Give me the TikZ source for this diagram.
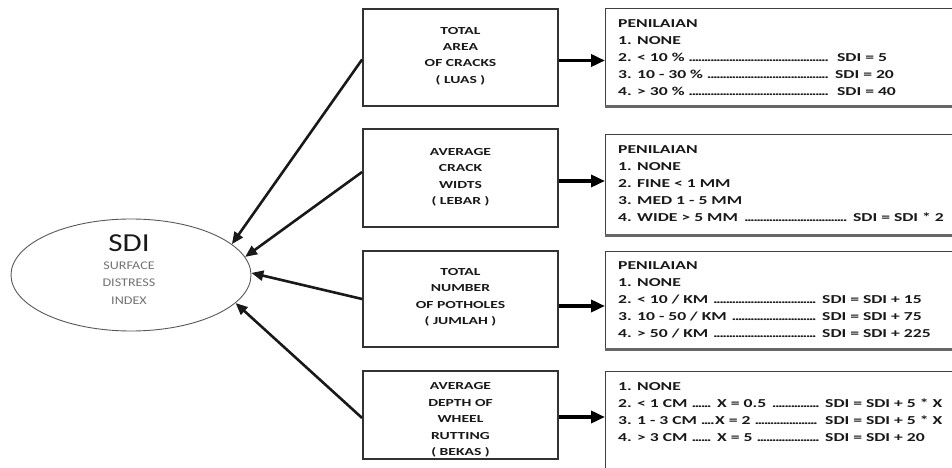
\documentclass[tikz,border=0pt]{standalone}
\usepackage{fontspec}
\usetikzlibrary{arrows.meta,shapes.geometric}
\newfontfamily\rfont[FakeStretch=1.45]{Carlito}
\newfontfamily\efont[FakeStretch=1.2]{Carlito}
\newcommand\dl{\leaders\hbox to 3.1pt{\hss.\hss}\hfill}
\newcommand\lr[3]{\hbox to #1{#2\ \dl\hskip 6pt}#3}
\newcommand\lrt[3]{\hbox to #1{#2\ \dl\hskip 1pt}#3}
\begin{document}
\begin{tikzpicture}[x=1bp,y=-1bp,
  mbox/.style={draw=black!80, line width=1.8bp, minimum width=195bp, inner sep=0pt},
  mtext/.style={align=center, text=black!90, font=\rfont\bfseries\fontsize{10.8}{16.5}\selectfont},
  rbox/.style={draw=black!75, line width=1.3bp, minimum width=360bp, anchor=north west, inner sep=0pt},
  rbot/.style={draw=black!60, line width=3bp},
  rtext/.style={anchor=base west, inner sep=0pt, text=black!90, font=\rfont\bfseries\fontsize{12.2}{17}\selectfont},
  larr/.style={line width=2.6bp, black!90, -{Triangle[length=12bp,width=10bp]}},
  rarr/.style={line width=3.8bp, black, -{Triangle[length=14bp,width=12bp]}}]
\path[use as bounding box, clip] (0,0) rectangle (952,468);
\fill[white] (0,0) rectangle (952,468);

% ellipse
\node[draw=black!65, line width=0.9bp, ellipse, minimum width=240bp, minimum height=112bp, inner sep=0pt] (e) at (131,275) {};
\node[inner sep=0pt, text=black!90, font=\efont\fontsize{26}{26}\selectfont] (sdi) at (129,243) {SDI};
\node[align=center, inner sep=0pt, text=black!55, font=\efont\fontsize{11.8}{17.5}\selectfont] (sdisub) at (129,283) {SURFACE\\DISTRESS\\INDEX};

% middle boxes
\node[mbox, minimum height=97bp] (m1) at (460.5,57.5) {};
\node[mtext] (m1t) at (460.5,56) {TOTAL\\AREA\\OF CRACKS\\( LUAS )};
\node[mbox, minimum height=98bp] (m2) at (460.5,178) {};
\node[mtext] (m2t) at (460.5,177.5) {AVERAGE\\CRACK\\WIDTS\\( LEBAR )};
\node[mbox, minimum height=96bp] (m3) at (460.5,299) {};
\node[mtext] (m3t) at (460.5,297.5) {TOTAL\\NUMBER\\OF POTHOLES\\( JUMLAH )};
\node[mbox, minimum height=88bp] (m4) at (460.5,415) {};
\node[mtext] (m4t) at (460.5,420) {AVERAGE\\DEPTH OF\\WHEEL\\RUTTING\\( BEKAS )};

% right boxes
\node[rbox, minimum height=97bp] (r1) at (605,8) {};
\draw[rbot] (r1.south west) -- (r1.south east);
\node[rbox, minimum height=100bp] (r2) at (605,134) {};
\draw[rbot] (r2.south west) -- (r2.south east);
\node[rbox, minimum height=97bp] (r3) at (605,251) {};
\draw[rbot] (r3.south west) -- (r3.south east);
\node[rbox, minimum height=120bp] (r4) at (605,371) {};

% right texts
\node[rtext] (r1a) at (618,28) {PENILAIAN};
\node[rtext] (r1b) at (618,45) {1. NONE};
\node[rtext] (r1c) at (618,62) {\lr{219bp}{2. < 10 \%}{SDI = 5}};
\node[rtext] (r1d) at (618,79) {\lr{217bp}{3. 10 - 30 \%}{SDI = 20}};
\node[rtext] (r1e) at (618,96) {\lr{219bp}{4. > 30 \%}{SDI = 40}};

\node[rtext] (r2a) at (618,154) {PENILAIAN};
\node[rtext] (r2b) at (618,171) {1. NONE};
\node[rtext] (r2c) at (618,188) {2. FINE < 1 MM};
\node[rtext] (r2d) at (618,205) {3. MED 1 - 5 MM};
\node[rtext] (r2e) at (618,222) {\lr{235bp}{4. WIDE > 5 MM}{SDI = SDI * 2}};

\node[rtext] (r3a) at (618,270) {PENILAIAN};
\node[rtext] (r3b) at (618,287) {1. NONE};
\node[rtext] (r3c) at (618,304) {\lr{204bp}{2. < 10 / KM}{SDI = SDI + 15}};
\node[rtext] (r3d) at (618,321) {\lr{204bp}{3. 10 - 50 / KM}{SDI = SDI + 75}};
\node[rtext] (r3e) at (618,338) {\lr{204bp}{4. > 50 / KM}{SDI = SDI + 225}};

\node[rtext] (r4a) at (618,390) {1. NONE};
\node[rtext] (r4b) at (618,407) {\lr{99bp}{2. < 1 CM}{\lr{108bp}{X = 0.5}{SDI = SDI + 5 * X}}};
\node[rtext] (r4c) at (618,424) {\lrt{97bp}{3. 1 - 3 CM}{\lr{110bp}{X = 2}{SDI = SDI + 5 * X}}};
\node[rtext] (r4d) at (618,441) {\lr{99bp}{4. > 3 CM}{\lr{108bp}{X = 5}{SDI = SDI + 20}}};

% arrows to ellipse
\draw[larr] ([yshift=-2bp]m1.west) -- (e.17);
\draw[larr] ([yshift=6bp]m2.west) -- (e.9);
\draw[larr] (m3.west) -- (e.1);
\draw[larr] ([yshift=-3bp]m4.west) -- (e.-15);

% arrows to right boxes
\draw[rarr] ([yshift=-3bp]m1.east) -- ([yshift=-3bp]m1.east -| r1.west);
\draw[rarr] ([yshift=-3bp]m2.east) -- ([yshift=-3bp]m2.east -| r2.west);
\draw[rarr] ([yshift=-7bp]m3.east) -- ([yshift=-7bp]m3.east -| r3.west);
\draw[rarr] ([yshift=-2bp]m4.east) -- ([yshift=-2bp]m4.east -| r4.west);
\end{tikzpicture}
\end{document}
